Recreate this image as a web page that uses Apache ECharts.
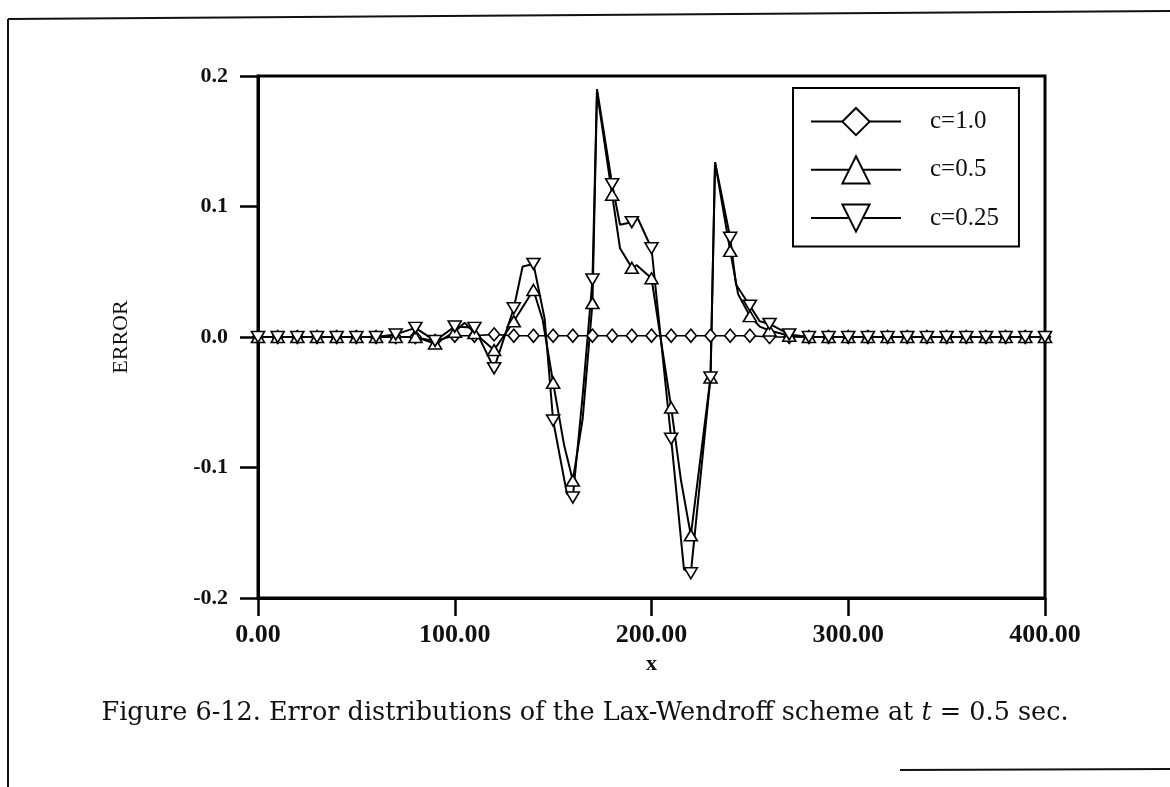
<!DOCTYPE html>
<html>
<head>
<meta charset="utf-8">
<script src="https://cdn.jsdelivr.net/npm/echarts@6/dist/echarts.min.js"></script>
<style>
html,body{margin:0;padding:0;background:#fff;}
#chart{width:1170px;height:787px;}
</style>
</head>
<body>
<div id="chart"></div>
<script>
// ---- data ----
const xMarks = [0,10,20,30,40,50,60,70,80,90,100,110,120,130,140,150,160,170,180,190,200,210,220,230,240,250,260,270,280,290,300,310,320,330,340,350,360,370,380,390,400];

const c10Marks = [0,0,0,0,0,0,0,0,0,-0.003,0.001,0.001,0.002,0.001,0.001,0.001,0.001,0.001,0.001,0.001,0.001,0.001,0.001,0.001,0.001,0.001,0,0,0,0,0,0,0,0,0,0,0,0,0,0,0];

const c05Marks = [0,0,0,0,0,0,0,0,0.000,-0.005,0.004,0.003,-0.010,0.012,0.036,-0.035,-0.110,0.026,0.109,0.053,0.045,-0.054,-0.152,-0.031,0.066,0.016,0.005,0.001,0,0,0,0,0,0,0,0,0,0,0,0,0];

const c025Marks = [0,0,0,0,0,0,0,0.002,0.007,-0.003,0.008,0.007,-0.024,0.022,0.056,-0.064,-0.123,0.044,0.117,0.088,0.068,-0.078,-0.181,-0.031,0.076,0.024,0.010,0.002,0,0,0,0,0,0,0,0,0,0,0,0,0];

// extra line vertices (curve drawn between markers)
const c05LineX = [105, 144.7, 155.6, 165, 172.3, 184, 192.5, 215, 232.3, 244, 255];
const c05LineY = [0.011, 0.013, -0.083, -0.063, 0.188, 0.068, 0.055, -0.110, 0.134, 0.033, 0.008];
const c025LineX = [134.5, 145.7, 157, 165, 172.3, 184, 193, 216.5, 232.3, 243, 255];
const c025LineY = [0.054, 0.014, -0.120, -0.045, 0.190, 0.086, 0.091, -0.178, 0.134, 0.040, 0.012];

const seriesNames = ['c=1.0', 'c=0.5', 'c=0.25'];
const xTicks = [0, 100, 200, 300, 400];
const captionText = ['Figure 6-12. Error distributions of the Lax-Wendroff scheme at ', 't', ' = 0.5 sec.'];

// ---- build series data ----
function build(marks, lx, ly) {
  const pts = xMarks.map((x, i) => ({ value: [x, marks[i]] }));
  (lx || []).forEach((x, i) => pts.push({ value: [x, ly[i]], symbol: 'none' }));
  pts.sort((a, b) => a.value[0] - b.value[0]);
  return pts;
}

const serif = "'Liberation Serif','Times New Roman',serif";

const chart = echarts.init(document.getElementById('chart'), null, { renderer: 'canvas' });

const baseSeries = {
  type: 'line',
  showSymbol: true,
  showAllSymbol: true,
  itemStyle: { color: '#fff', borderColor: '#000', borderWidth: 1.6 },
  lineStyle: { color: '#000', width: 2 },
  emphasis: { disabled: true },
  animation: false
};

chart.setOption({
  backgroundColor: '#fff',
  animation: false,
  title: {
    text: '{a|' + captionText[0] + '}{i|' + captionText[1] + '}{a|' + captionText[2] + '}',
    left: 'center',
    top: 695,
    textStyle: {
      fontWeight: 'normal',
      rich: {
        a: { fontFamily: "'DejaVu Serif',serif", fontSize: 25.5, fontWeight: 'normal', color: '#111' },
        i: { fontFamily: "'DejaVu Serif',serif", fontSize: 25.5, fontWeight: 'normal', fontStyle: 'italic', color: '#111' }
      }
    }
  },
  grid: {
    left: 258, right: 125, top: 76, bottom: 189,
    show: true, borderColor: '#000', borderWidth: 3, backgroundColor: 'transparent'
  },
  legend: {
    orient: 'vertical',
    left: 793, top: 88,
    padding: [19, 20, 14, 17],
    itemWidth: 90, itemHeight: 34, itemGap: 19,
    backgroundColor: '#fff',
    borderColor: '#000', borderWidth: 2,
    borderRadius: 0,
    data: seriesNames,
    textStyle: { fontFamily: serif, fontSize: 25, color: '#111', padding: [0, 0, 0, 24] },
    itemStyle: { borderWidth: 2 },
    selectedMode: false
  },
  xAxis: {
    type: 'value', min: 0, max: 400, interval: 100,
    name: 'x', nameLocation: 'middle', nameGap: 54,
    nameTextStyle: { fontFamily: serif, fontSize: 22, fontWeight: 'bold', color: '#111' },
    axisLine: { show: true, onZero: false, lineStyle: { color: '#000', width: 3 } },
    axisTick: { show: true, inside: false, length: 18, lineStyle: { color: '#000', width: 2.5 } },
    axisLabel: { margin: 24, fontFamily: serif, fontSize: 26, fontWeight: 'bold', color: '#111',
      formatter: v => xTicks.indexOf(v) >= 0 ? v.toFixed(2) : '' },
    splitLine: { show: false }
  },
  yAxis: {
    type: 'value', min: -0.2, max: 0.2, interval: 0.1,
    name: 'ERROR', nameLocation: 'middle', nameGap: 126,
    nameTextStyle: { fontFamily: serif, fontSize: 22, color: '#111' },
    axisLine: { show: true, onZero: false, lineStyle: { color: '#000', width: 3 } },
    axisTick: { show: true, inside: false, length: 18, lineStyle: { color: '#000', width: 2.5 } },
    axisLabel: { margin: 30, fontFamily: serif, fontSize: 22, fontWeight: 'bold', color: '#111',
      formatter: v => (Math.abs(v) < 1e-9 ? 0 : v).toFixed(1) },
    splitLine: { show: false }
  },
  series: [
    Object.assign({}, baseSeries, {
      name: seriesNames[0], symbol: 'diamond', symbolSize: [11, 13],
      lineStyle: { color: '#000', width: 1.6 },
      data: build(c10Marks)
    }),
    Object.assign({}, baseSeries, {
      name: seriesNames[1], symbol: 'triangle', symbolSize: [13, 11],
      data: build(c05Marks, c05LineX, c05LineY)
    }),
    Object.assign({}, baseSeries, {
      name: seriesNames[2], symbol: 'triangle', symbolRotate: 180, symbolSize: [13, 11],
      data: build(c025Marks, c025LineX, c025LineY)
    })
  ],
  graphic: [
    { type: 'line', shape: { x1: 8, y1: 19, x2: 1170, y2: 11 }, style: { stroke: '#111', lineWidth: 2 }, silent: true },
    { type: 'line', shape: { x1: 8, y1: 19, x2: 8, y2: 787 }, style: { stroke: '#111', lineWidth: 2 }, silent: true },
    { type: 'line', shape: { x1: 900, y1: 770, x2: 1170, y2: 769 }, style: { stroke: '#111', lineWidth: 2 }, silent: true }
  ]
});
</script>
</body>
</html>
